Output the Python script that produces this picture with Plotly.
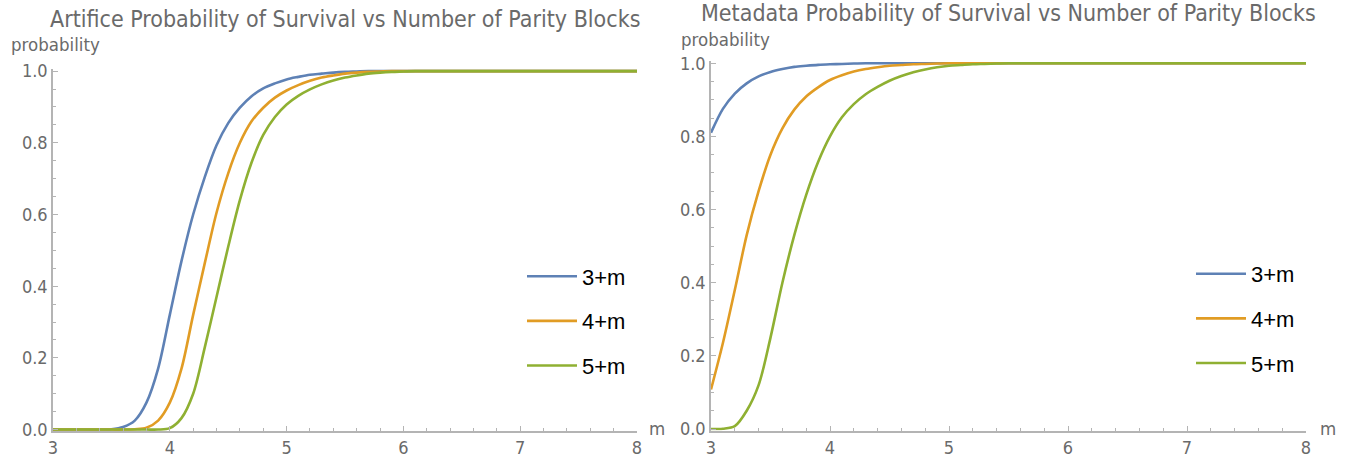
import plotly.graph_objects as go

# number of parity blocks m
M = [3.0, 3.1, 3.2, 3.3, 3.4, 3.5, 3.6, 3.7, 3.8, 3.9,
     4.0, 4.1, 4.2, 4.3, 4.4, 4.5, 4.6, 4.7, 4.8, 4.9,
     5.0, 5.1, 5.2, 5.3, 5.4, 5.5, 5.6, 5.7, 5.8, 5.9,
     6.0, 6.1, 6.2, 6.3, 6.4, 6.5, 7.0, 8.0]

series_names = ["3+m", "4+m", "5+m"]

# Artifice probability of survival
artifice_3 = [0, 0, 0, 0, 0, 0.001, 0.007, 0.025, 0.075, 0.17,
              0.32, 0.47, 0.60, 0.705, 0.793, 0.855, 0.898, 0.93, 0.952, 0.966,
              0.977, 0.984, 0.99, 0.993, 0.996, 0.998, 0.999, 1, 1, 1,
              1, 1, 1, 1, 1, 1, 1, 1]
artifice_4 = [0, 0, 0, 0, 0, 0, 0, 0.001, 0.005, 0.025,
              0.075, 0.17, 0.32, 0.465, 0.605, 0.715, 0.80, 0.86, 0.898, 0.926,
              0.946, 0.961, 0.973, 0.982, 0.988, 0.993, 0.996, 0.998, 0.999, 1,
              1, 1, 1, 1, 1, 1, 1, 1]
artifice_5 = [0, 0, 0, 0, 0, 0, 0, 0, 0, 0,
              0.004, 0.032, 0.10, 0.23, 0.37, 0.51, 0.64, 0.745, 0.822, 0.872,
              0.907, 0.931, 0.949, 0.963, 0.974, 0.982, 0.988, 0.993, 0.996, 0.998,
              0.999, 1, 1, 1, 1, 1, 1, 1]

# Metadata probability of survival
metadata_3 = [0.81, 0.875, 0.917, 0.945, 0.964, 0.976, 0.984, 0.99, 0.993, 0.9955,
              0.997, 0.998, 0.999, 1, 1, 1, 1, 1, 1, 1,
              1, 1, 1, 1, 1, 1, 1, 1, 1, 1,
              1, 1, 1, 1, 1, 1, 1, 1]
metadata_4 = [0.108, 0.235, 0.38, 0.53, 0.65, 0.75, 0.822, 0.873, 0.909, 0.934,
              0.954, 0.967, 0.977, 0.984, 0.989, 0.993, 0.995, 0.997, 0.998, 0.999,
              1, 1, 1, 1, 1, 1, 1, 1, 1, 1,
              1, 1, 1, 1, 1, 1, 1, 1]
metadata_5 = [0, 0.001, 0.008, 0.05, 0.12, 0.25, 0.40, 0.53, 0.64, 0.73,
              0.80, 0.852, 0.888, 0.915, 0.935, 0.952, 0.965, 0.975, 0.983, 0.989,
              0.993, 0.995, 0.997, 0.998, 0.999, 1, 1, 1, 1, 1,
              1, 1, 1, 1, 1, 1, 1, 1]

y_ticks = [0.0, 0.2, 0.4, 0.6, 0.8, 1.0]
x_ticks = [3, 4, 5, 6, 7, 8]

colors = ["#5E81B5", "#E19C24", "#8FB032"]
W, H = 1348, 458

NARROW = "Liberation Sans Narrow, Arial Narrow, DejaVu Sans Condensed, sans-serif"
GRAY_TXT = "#6a6a6a"
AXIS_COL = "#b4b4b4"

fig = go.Figure()

panels = [
    ("x", "y", "legend", [artifice_3, artifice_4, artifice_5]),
    ("x2", "y2", "legend2", [metadata_3, metadata_4, metadata_5]),
]
for xa, ya, lg, data in panels:
    for i, vals in enumerate(data):
        fig.add_trace(go.Scatter(
            x=M, y=vals, mode="lines", name=series_names[i],
            line=dict(color=colors[i], width=2.6, shape="spline", smoothing=0.9),
            xaxis=xa, yaxis=ya, legend=lg, legendgroup=lg + str(i),
            hoverinfo="skip",
        ))

def xaxis_cfg(domain, anchor):
    return dict(
        domain=domain, anchor=anchor, range=[3, 8], automargin=False,
        tickmode="array", tickvals=x_ticks, ticktext=[str(v) for v in x_ticks],
        ticks="inside", ticklen=5, tickwidth=1, tickcolor=AXIS_COL,
        minor=dict(dtick=0.2, tick0=3, ticks="inside", ticklen=3, tickcolor=AXIS_COL),
        showline=True, linecolor=AXIS_COL, linewidth=1.5,
        showgrid=False, zeroline=False,
        tickfont=dict(family=NARROW, size=18, color=GRAY_TXT),
    )

def yaxis_cfg(domain, anchor):
    return dict(
        domain=domain, anchor=anchor, range=[-0.004, 1.006], automargin=False,
        tickmode="array", tickvals=y_ticks, ticktext=["%.1f" % v for v in y_ticks],
        ticks="inside", ticklen=5, tickwidth=1, tickcolor=AXIS_COL,
        minor=dict(dtick=0.05, tick0=0, ticks="inside", ticklen=3, tickcolor=AXIS_COL),
        showline=True, linecolor=AXIS_COL, linewidth=1.5,
        showgrid=False, zeroline=False,
        tickfont=dict(family=NARROW, size=18, color=GRAY_TXT),
    )

L_x0, L_x1 = 53 / W, 637 / W
R_x0, R_x1 = 711 / W, 1306 / W
L_y0, L_y1 = (H - 431) / H, (H - 69) / H
R_y0, R_y1 = (H - 430.5) / H, (H - 61) / H

fig.update_layout(
    width=W, height=H,
    margin=dict(l=0, r=0, t=0, b=0, autoexpand=False),
    paper_bgcolor="white", plot_bgcolor="white",
    xaxis=xaxis_cfg([L_x0, L_x1], "y"),
    yaxis=yaxis_cfg([L_y0, L_y1], "x"),
    xaxis2=xaxis_cfg([R_x0, R_x1], "y2"),
    yaxis2=yaxis_cfg([R_y0, R_y1], "x2"),
    legend=dict(
        x=522 / W, y=1 - 321 / H, xanchor="left", yanchor="middle",
        font=dict(family="Liberation Sans, Arial, sans-serif", size=22, color="black"),
        itemwidth=50, tracegroupgap=13, bgcolor="rgba(0,0,0,0)",
    ),
    legend2=dict(
        x=1191 / W, y=1 - 318.5 / H, xanchor="left", yanchor="middle",
        font=dict(family="Liberation Sans, Arial, sans-serif", size=22, color="black"),
        itemwidth=50, tracegroupgap=13, bgcolor="rgba(0,0,0,0)",
    ),
    showlegend=True,
)

titles = [
    ("Artifice Probability of Survival vs Number of Parity Blocks", (L_x0 + L_x1) / 2, 1 - 19 / H),
    ("Metadata Probability of Survival vs Number of Parity Blocks", (R_x0 + R_x1) / 2, 1 - 13 / H),
]
for text, x, y in titles:
    fig.add_annotation(text=text, x=x, y=y, xref="paper", yref="paper",
                       xanchor="center", yanchor="middle", showarrow=False,
                       font=dict(family=NARROW, size=23, color=GRAY_TXT))

labels = [
    ("probability", 9 / W, 1 - 45 / H, "left"),
    ("probability", 679 / W, 1 - 40 / H, "left"),
    ("m", 647 / W, 1 - 428 / H, "left"),
    ("m", 1318 / W, 1 - 428 / H, "left"),
]
for text, x, y, xa in labels:
    fig.add_annotation(text=text, x=x, y=y, xref="paper", yref="paper",
                       xanchor=xa, yanchor="middle", showarrow=False,
                       font=dict(family=NARROW, size=18.5, color=GRAY_TXT))

# remove the browser's default page margin so the figure sits at the window's corner
fig.write_html("out.html", config={"displayModeBar": False},
               post_script="document.body.style.margin='0';")
